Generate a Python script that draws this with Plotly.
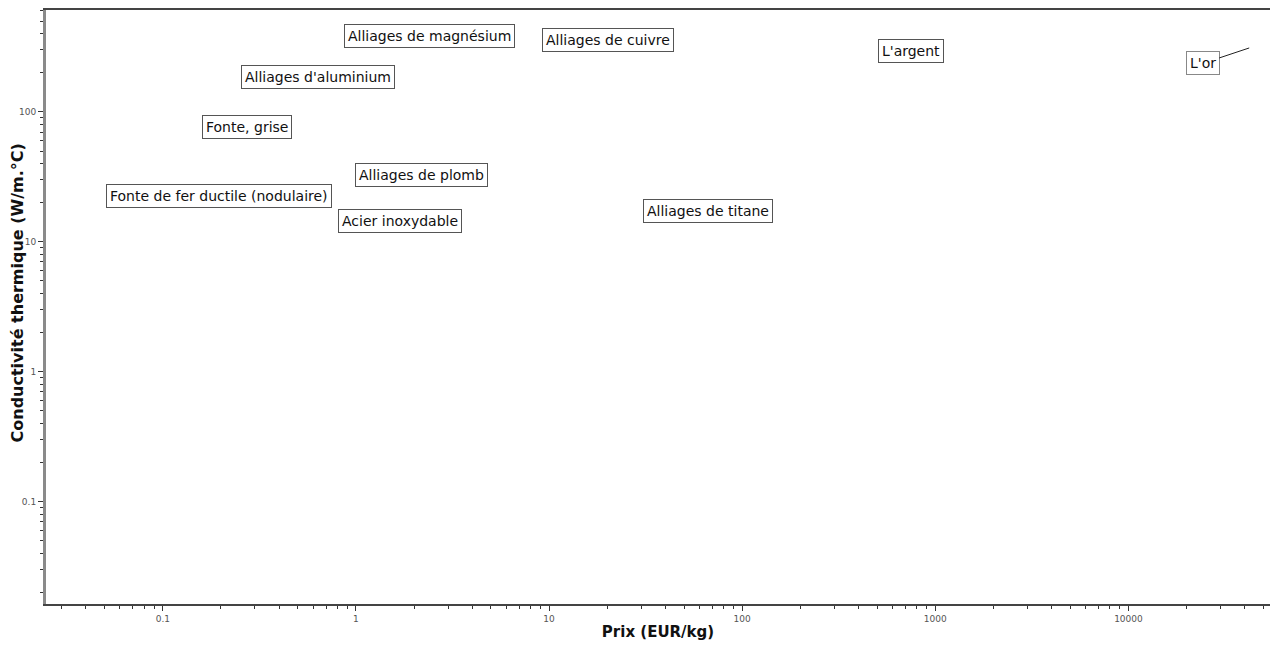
import math
import plotly.graph_objects as go

# Materials: price (EUR/kg) and thermal conductivity (W/m.°C) at label anchors
materiaux = [
    "Alliages de magnésium",
    "Alliages de cuivre",
    "L'argent",
    "Alliages d'aluminium",
    "Fonte, grise",
    "Alliages de plomb",
    "Fonte de fer ductile (nodulaire)",
    "Acier inoxydable",
    "Alliages de titane",
    "L'or",
]
prix = [2.41, 20.1, 748, 0.633, 0.273, 2.18, 0.195, 1.70, 66.4, 42200]
conductivite = [385, 358, 295, 186, 76.0, 33.0, 22.5, 14.5, 17.3, 311]

# Offsets (px) of labels drawn away from their point with a leader line
decalage = {"L'or": (-46.5, 15.5)}

x_ticks = [0.1, 1, 10, 100, 1000, 10000]
x_ticktext = ["0.1", "1", "10", "100", "1000", "10000"]
y_ticks = [0.1, 1, 10, 100]
y_ticktext = ["0.1", "1", "10", "100"]

FONT = "DejaVu Sans"

fig = go.Figure()
fig.add_trace(go.Scatter(x=prix, y=conductivite, mode="markers",
                         marker=dict(size=1, opacity=0), hoverinfo="text",
                         text=materiaux, showlegend=False))

# annotations on log axes are positioned in log10 units
for nom, px_, k in zip(materiaux, prix, conductivite):
    common = dict(x=math.log10(px_), y=math.log10(k), xref="x", yref="y",
                  text=nom, font=dict(family=FONT, size=14, color="#111"),
                  bgcolor="white", borderwidth=1, borderpad=3)
    if nom in decalage:
        ax, ay = decalage[nom]
        fig.add_annotation(**common, showarrow=True, arrowhead=0,
                           arrowwidth=1, arrowcolor="#222", ax=ax, ay=ay,
                           standoff=0, bordercolor="#888")
    else:
        fig.add_annotation(**common, showarrow=False, bordercolor="#555")

# y-axis title placed as a rotated annotation
fig.add_annotation(x=-0.0229, y=0.5244, xref="paper", yref="paper",
                   text="<b>Conductivité thermique (W/m.°C)</b>",
                   textangle=-90, showarrow=False,
                   xanchor="center", yanchor="middle",
                   font=dict(family=FONT, size=16, color="#111"))

fig.update_xaxes(
    type="log", range=[-1.605, 4.733],
    tickmode="array", tickvals=x_ticks, ticktext=x_ticktext,
    ticks="outside", ticklen=5, tickwidth=1, tickcolor="#333",
    minor=dict(ticks="outside", ticklen=3, tickwidth=1, tickcolor="#333",
               dtick="D1", showgrid=False),
    tickfont=dict(family=FONT, size=9, color="#555"),
    showline=True, linecolor="#444", linewidth=1.5, mirror=True,
    showgrid=False, zeroline=False,
    title=dict(text="<b>Prix (EUR/kg)</b>", standoff=4,
               font=dict(family=FONT, size=15, color="#111")),
)
fig.update_yaxes(
    type="log", range=[-1.788, 2.785],
    tickmode="array", tickvals=y_ticks, ticktext=y_ticktext,
    ticks="outside", ticklen=5, tickwidth=1, tickcolor="#333",
    minor=dict(ticks="outside", ticklen=3, tickwidth=1, tickcolor="#333",
               dtick="D1", showgrid=False),
    tickfont=dict(family=FONT, size=9, color="#555"),
    showline=True, linecolor="#8a8a8a", linewidth=3,
    showgrid=False, zeroline=False,
)

fig.update_layout(
    width=1270, height=645,
    margin=dict(l=46, r=0, t=10, b=41),
    paper_bgcolor="white", plot_bgcolor="white",
    showlegend=False,
)

fig.write_html("out.html")
